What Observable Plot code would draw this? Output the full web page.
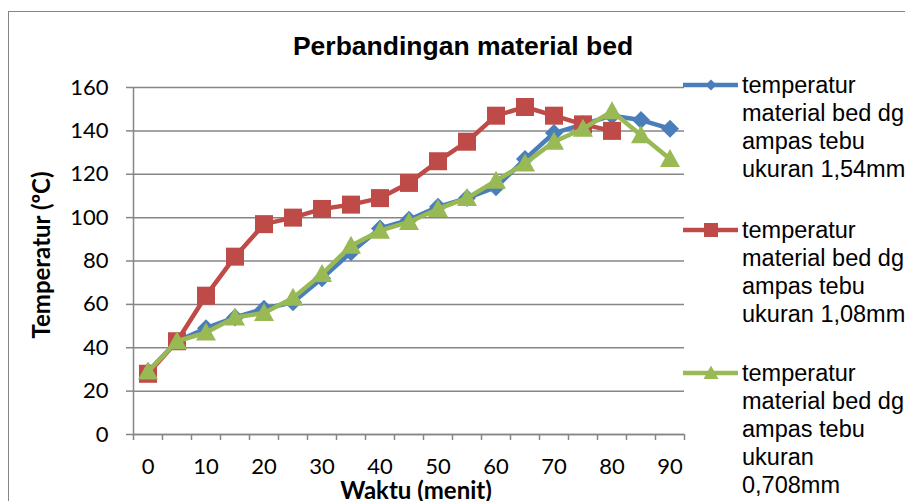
<!DOCTYPE html>
<html><head><meta charset="utf-8">
<script src="https://cdn.jsdelivr.net/npm/d3@7"></script>
<script src="https://cdn.jsdelivr.net/npm/@observablehq/plot@0.6"></script>
<style>
html,body{margin:0;padding:0;background:#fff;}
#chart{position:relative;width:905px;height:501px;overflow:hidden;background:#fff;}
.ov{position:absolute;white-space:pre;color:#000;}
</style></head><body>
<div id="chart"></div>
<script>
// ---- data ----
const minutes = [0,5,10,15,20,25,30,35,40,45,50,55,60,65,70,75,80,85,90];
const xTickLabels = [0,10,20,30,40,50,60,70,80,90];
const yTicks = [0,20,40,60,80,100,120,140,160];
const titleText = "Perbandingan material bed";
const xLabel = "Waktu (menit)";
const yLabel = "Temperatur (ºC)";
const seriesNames = [
  "temperatur\nmaterial bed dg\nampas tebu\nukuran 1,54mm",
  "temperatur\nmaterial bed dg\nampas tebu\nukuran 1,08mm",
  "temperatur\nmaterial bed dg\nampas tebu\nukuran\n0,708mm"
];
const seriesColors = ["#4A7EBB", "#BE4B48", "#98B954"];
const blueValues  = [29, 43, 49, 54, 58, 61, 72, 84, 95, 99, 105, 109, 114, 127, 139, 143, 147, 145, 141];
const redValues   = [28, 43, 64, 82, 97, 100, 104, 106, 109, 116, 126, 135, 147, 151, 147, 143, 140];
const greenValues = [29, 43, 47, 54, 56, 63, 74, 87, 94, 98, 104, 109, 117, 125, 135, 141, 149, 138, 127];

// ---- symbols ----
const diamond = {draw(c, s){const r=Math.sqrt(s/Math.PI); c.moveTo(0,-r); c.lineTo(r,0); c.lineTo(0,r); c.lineTo(-r,0); c.closePath();}};
const square = {draw(c, s){const r=Math.sqrt(s/Math.PI); c.moveTo(-r,-r); c.lineTo(r,-r); c.lineTo(r,r); c.lineTo(-r,r); c.closePath();}};
const triangle = {draw(c, s){const r=Math.sqrt(s/Math.PI); c.moveTo(0,-r); c.lineTo(r,r*0.8); c.lineTo(-r,r*0.8); c.closePath();}};
const symbols = [diamond, square, triangle];
const markerR = [9, 9, 10];
const legendR = [5.5, 7, 7.5];

const seriesValues = [blueValues, redValues, greenValues];
const tables = seriesValues.map((vals, i) => vals.map((v, j) => ({minute: minutes[j], value: v, series: i})));

const step = minutes[1] - minutes[0];
const boundaries = minutes.map(m => m - step/2).concat([minutes[minutes.length-1] + step/2]);
const gray = "#868686";

const seriesMarks = tables.flatMap((t, i) => [
  Plot.line(t, {x: "minute", y: "value", stroke: seriesColors[i], strokeWidth: 4.5, strokeLinejoin: "round"}),
  Plot.dot(t, {x: "minute", y: "value", symbol: symbols[i], r: markerR[i], fill: seriesColors[i], stroke: "none"})
]);

const plot = Plot.plot({
  width: 905, height: 501,
  marginLeft: 133, marginRight: 221, marginTop: 87, marginBottom: 67,
  style: {fontFamily: "Lato, sans-serif", fontSize: "22px", color: "#000", background: "transparent", overflow: "visible"},
  x: {domain: [boundaries[0], boundaries[boundaries.length-1]]},
  y: {domain: [yTicks[0], yTicks[yTicks.length-1]]},
  marks: [
    Plot.gridY(yTicks, {stroke: gray, strokeOpacity: 1, strokeWidth: 1.5}),
    Plot.axisY(yTicks, {tickSize: 7, tickPadding: 18, fontSize: 22, stroke: gray, strokeWidth: 1.5, label: null}),
    Plot.axisX(boundaries, {tickSize: 6, tickFormat: () => "", stroke: gray, strokeWidth: 1.5, label: null}),
    Plot.axisX(xTickLabels, {tickSize: 0, tickPadding: 24, fontSize: 22, label: null}),
    Plot.ruleX([boundaries[0]], {stroke: gray, strokeWidth: 1.5}),
    Plot.ruleY([yTicks[0]], {stroke: gray, strokeWidth: 1.5}),
    ...seriesMarks
  ]
});

const chart = document.getElementById("chart");
// outer chart border
const border = document.createElement("div");
border.className = "ov";
Object.assign(border.style, {left: "8px", top: "11px", width: "1200px", height: "1200px", borderLeft: "1.5px solid " + gray, borderTop: "1.5px solid " + gray});
chart.appendChild(border);
plot.style.position = "absolute"; plot.style.left = "0"; plot.style.top = "0";
chart.appendChild(plot);

function addText(txt, css) {
  const d = document.createElement("div");
  d.className = "ov";
  d.textContent = txt;
  Object.assign(d.style, css);
  chart.appendChild(d);
  return d;
}
addText(titleText, {left: "163px", top: "33px", width: "600px", textAlign: "center", font: "bold 26.5px 'Liberation Sans', Arial, sans-serif", lineHeight: "26px"});
addText(xLabel, {left: "216px", top: "482px", width: "400px", textAlign: "center", font: "bold 24px Lato, sans-serif", lineHeight: "16px"});
addText(yLabel, {left: "-159px", top: "243px", width: "400px", textAlign: "center", font: "bold 24px Lato, sans-serif", lineHeight: "24px", transform: "rotate(-90deg)"});

// legend
const legendTops = [85, 230, 373];
seriesNames.forEach((name, i) => {
  const cy = legendTops[i];
  const svg = d3.create("svg").attr("width", 62).attr("height", 28)
    .style("position", "absolute").style("left", "680px").style("top", (cy - 14) + "px");
  svg.append("line").attr("x1", 3).attr("x2", 58).attr("y1", 14).attr("y2", 14)
    .attr("stroke", seriesColors[i]).attr("stroke-width", 4.5);
  const p = d3.path();
  symbols[i].draw(p, Math.PI * legendR[i] * legendR[i]);
  svg.append("path").attr("d", p.toString()).attr("transform", "translate(31,14)").attr("fill", seriesColors[i]);
  chart.appendChild(svg.node());
  addText(name, {left: "742px", top: (cy - 14) + "px", font: "23.5px 'Liberation Sans', Arial, sans-serif", lineHeight: "28px"});
});
</script>
</body></html>
